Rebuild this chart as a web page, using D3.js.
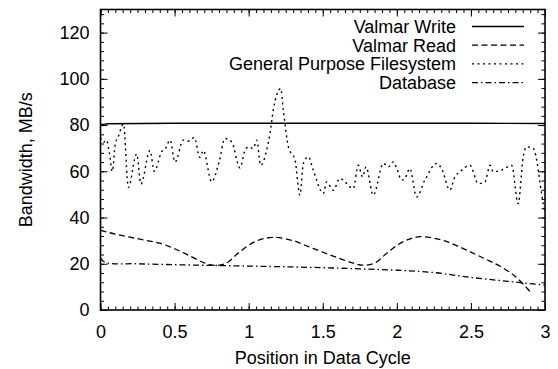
<!DOCTYPE html>
<html>
<head>
<meta charset="utf-8">
<script src="https://cdn.jsdelivr.net/npm/d3@7"></script>
<style>
  html, body { margin: 0; padding: 0; background: #fff; }
  svg { display: block; font-family: "Liberation Sans", Arial, Helvetica, sans-serif; }
</style>
</head>
<body>
<svg id="chart" width="558" height="369"></svg>
<script>
// tick values
const xTicks = [0, 0.5, 1, 1.5, 2, 2.5, 3];
const yTicks = [0, 20, 40, 60, 80, 100, 120];

// series, [position, MB/s]
const writeData = [[0, 80.2], [0.05, 80.6], [0.5, 80.8], [1, 80.8], [1.5, 80.8], [2, 80.8], [2.5, 80.8], [3, 80.7]];

const readData = [
  [0, 34.5], [0.1, 32.8], [0.2, 31.5], [0.3, 30.2], [0.4, 28.9], [0.5, 26.5], [0.6, 23.5],
  [0.7, 20.4], [0.78, 19.3], [0.85, 20.3], [0.93, 24.6], [1.04, 29.5], [1.16, 31.4], [1.3, 30],
  [1.4, 27.5], [1.5, 25], [1.6, 22.6], [1.7, 20.4], [1.77, 19.4], [1.85, 20.3], [1.93, 24.4],
  [2.04, 29.5], [2.155, 31.7], [2.3, 30.3], [2.4, 28], [2.5, 25], [2.6, 22], [2.7, 18.8],
  [2.8, 14.5], [2.91, 7.2]
];

const gpfsData = [
  [0.00, 74.5], [0.02, 72.5], [0.04, 73.5], [0.06, 68], [0.08, 60], [0.10, 72], [0.12, 75],
  [0.155, 80.5], [0.188, 53], [0.244, 67.5], [0.273, 54.5], [0.334, 69], [0.363, 60],
  [0.413, 68.5], [0.44, 70], [0.469, 73.5], [0.503, 64], [0.559, 73.5], [0.59, 73],
  [0.633, 74.6], [0.671, 66], [0.694, 69], [0.75, 55.5], [0.80, 64], [0.84, 74.2],
  [0.885, 72.8], [0.941, 61.5], [0.975, 69], [0.998, 70.6], [1.031, 69.9], [1.054, 73.5],
  [1.081, 62.6], [1.121, 69], [1.144, 76.4], [1.166, 86.4], [1.216, 95.8], [1.234, 86.4],
  [1.268, 70.6], [1.313, 64.8], [1.346, 49.7], [1.369, 63.4], [1.403, 66.3], [1.436, 60.5],
  [1.504, 50.4], [1.526, 55.4], [1.571, 51.8], [1.616, 56.9], [1.706, 52.6], [1.74, 62.6],
  [1.769, 57.6], [1.792, 61.9], [1.841, 49.7], [1.909, 63.4], [1.943, 61.9], [1.976, 64.1],
  [2.0, 61.2], [2.032, 56.2], [2.055, 56.9], [2.088, 61.2], [2.133, 48.9], [2.189, 56.2],
  [2.269, 63.4], [2.302, 61.2], [2.358, 51.9], [2.392, 57.6], [2.426, 59.8], [2.493, 62.6],
  [2.55, 54.7], [2.595, 55.4], [2.629, 62.6], [2.651, 59.8], [2.707, 60.5], [2.775, 62.6],
  [2.819, 46.0], [2.853, 66.3], [2.876, 70.6], [2.921, 69.9], [2.988, 46.0], [3.0, 42]
];

const dbData = [
  [0, 22.5], [0.03, 20.6], [0.25, 20.0], [0.5, 19.6], [0.75, 19.3], [1.0, 19.0], [1.25, 18.7],
  [1.5, 18.3], [1.75, 17.8], [2.0, 17.2], [2.25, 16.2], [2.5, 14.1], [2.75, 12.4], [3.0, 10.8]
];

const seriesNames = ["Valmar Write", "Valmar Read", "General Purpose Filesystem", "Database"];

const margin = { left: 100.5, right: 13, top: 9.5, bottom: 59 };
const width = 558 - margin.left - margin.right;
const height = 369 - margin.top - margin.bottom;

const svg = d3.select("#chart");
const g = svg.append("g").attr("transform", `translate(${margin.left},${margin.top})`);

const x = d3.scaleLinear().domain([0, 3]).range([0, width]);
const y = d3.scaleLinear().domain([0, 130]).range([height, 0]);

const xMinor = d3.range(0, 3.0001, 0.05);
const yMinor = d3.range(0, 130.0001, 4);

// gnuplot style ticks: inward on all four sides
const styleAxis = sel => {
  sel.select(".domain").remove();
  sel.selectAll("line").attr("stroke", "#000").attr("stroke-width", 1);
  sel.selectAll("text").attr("font-size", 18).attr("font-family", null).attr("fill", "#000");
  sel.attr("font-family", null).attr("font-size", 18);
};

g.append("g").attr("transform", `translate(0,${height})`)
  .call(d3.axisBottom(x).tickValues(xMinor).tickSize(-3.5).tickFormat(""))
  .call(styleAxis);
g.append("g")
  .call(d3.axisTop(x).tickValues(xMinor).tickSize(-3.5).tickFormat(""))
  .call(styleAxis);
g.append("g")
  .call(d3.axisLeft(y).tickValues(yMinor).tickSize(-3.5).tickFormat(""))
  .call(styleAxis);
g.append("g").attr("transform", `translate(${width},0)`)
  .call(d3.axisRight(y).tickValues(yMinor).tickSize(-3.5).tickFormat(""))
  .call(styleAxis);

g.append("g").attr("transform", `translate(0,${height})`)
  .call(d3.axisBottom(x).tickValues(xTicks).tickSize(-7).tickPadding(15).tickFormat(d3.format("")))
  .call(styleAxis);
g.append("g")
  .call(d3.axisTop(x).tickValues(xTicks).tickSize(-7).tickFormat(""))
  .call(styleAxis);
g.append("g")
  .call(d3.axisLeft(y).tickValues(yTicks).tickSize(-7).tickPadding(11).tickFormat(d3.format("")))
  .call(styleAxis);
g.append("g").attr("transform", `translate(${width},0)`)
  .call(d3.axisRight(y).tickValues(yTicks).tickSize(-7).tickFormat(""))
  .call(styleAxis);

// series
svg.append("defs").append("clipPath").attr("id", "clip")
  .append("rect").attr("width", width).attr("height", height);

const plot = g.append("g").attr("clip-path", "url(#clip)");

const styles = [
  { data: writeData, dash: null, curve: d3.curveLinear, w: 1.4 },
  { data: readData, dash: "6,3.5", curve: d3.curveCatmullRom, w: 1.3 },
  { data: gpfsData, dash: "2,3.5", curve: d3.curveMonotoneX, w: 1.4 },
  { data: dbData, dash: "6,3,1.5,3", curve: d3.curveCatmullRom, w: 1.3 }
];

styles.forEach(s => {
  plot.append("path")
    .datum(s.data)
    .attr("fill", "none")
    .attr("stroke", "#000")
    .attr("stroke-width", s.w)
    .attr("stroke-dasharray", s.dash)
    .attr("d", d3.line().curve(s.curve).x(d => x(d[0])).y(d => y(d[1])));
});

// border
g.append("rect")
  .attr("width", width).attr("height", height)
  .attr("fill", "none").attr("stroke", "#000").attr("stroke-width", 1.6);

// legend
const legend = svg.append("g");
seriesNames.forEach((name, i) => {
  const by = 33 + i * 18.7;
  legend.append("text")
    .attr("x", 456).attr("y", by)
    .attr("text-anchor", "end")
    .attr("font-size", 18)
    .text(name);
  legend.append("line")
    .attr("x1", 472).attr("x2", 524)
    .attr("y1", by - 6.5).attr("y2", by - 6.5)
    .attr("stroke", "#000")
    .attr("stroke-width", styles[i].w)
    .attr("stroke-dasharray", styles[i].dash);
});

// axis titles
svg.append("text")
  .attr("x", margin.left + width / 2).attr("y", 364)
  .attr("text-anchor", "middle").attr("font-size", 18)
  .text("Position in Data Cycle");

svg.append("text")
  .attr("transform", `translate(32,${margin.top + height / 2}) rotate(-90)`)
  .attr("text-anchor", "middle").attr("font-size", 18)
  .text("Bandwidth, MB/s");
</script>
</body>
</html>
